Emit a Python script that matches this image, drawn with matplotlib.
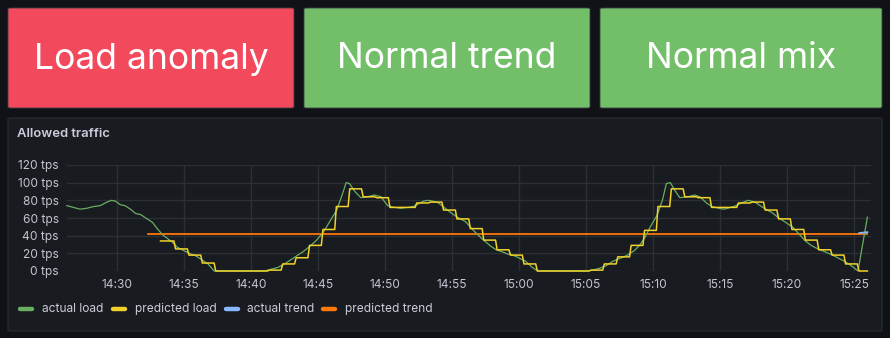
import numpy as np
import matplotlib
matplotlib.use("Agg")
import matplotlib.pyplot as plt
from matplotlib.patches import FancyBboxPatch
from matplotlib.lines import Line2D

plt.rcParams['font.family'] = ['Inter', 'DejaVu Sans']

# =========================================================
# DATA (time in minutes after 14:00)
# =========================================================
stat_labels = ["Load anomaly", "Normal trend", "Normal mix"]
stat_states = ["alert", "ok", "ok"]

actual_t = [26.25, 26.75, 27.25, 27.75, 28.25, 28.75, 29.25, 29.6, 29.9, 30.25,
            30.6, 31.0, 31.4, 31.75, 32.25, 32.65, 33.0, 33.4, 33.75, 34.1,
            34.5, 35.0, 35.4, 35.9, 36.3, 36.8, 37.25, 41.0, 41.5, 42.0,
            42.5, 42.9, 43.4, 43.9, 44.4, 44.9, 45.4, 46.0, 46.4, 46.8,
            47.1, 47.35, 47.75, 48.2, 48.7, 49.2, 49.7, 50.2, 50.7, 51.2,
            51.7, 52.1, 52.5, 52.85, 53.2, 53.6, 54.0, 54.5, 55.0, 55.5,
            56.0, 56.6, 57.2, 57.9, 58.3, 58.7, 59.2, 59.7, 60.1, 60.5,
            61.0, 61.4, 65.0, 65.5, 66.0, 66.5, 67.0, 67.5, 68.1, 68.6,
            69.0, 69.4, 69.8, 70.3, 70.7, 71.0, 71.3, 71.6, 72.0, 72.6,
            73.1, 73.5, 74.0, 74.4, 74.9, 75.3, 75.8, 76.2, 76.6, 77.1,
            77.6, 78.0, 78.4, 78.9, 79.3, 79.8, 80.4, 80.9, 81.3, 81.8,
            82.3, 82.8, 83.4, 83.9, 84.3, 84.8, 85.3, 86.0]
actual_v = [74, 72, 70, 71, 73, 74, 78, 80, 79, 75,
            74, 70, 65, 64, 59, 55, 48, 41, 37, 33,
            27, 23, 20, 17, 13, 8, 0, 0, 2, 4,
            8, 12, 17, 22, 28, 35, 44, 59, 69, 86,
            100, 99, 90, 83, 84, 86, 84, 74, 72, 71,
            72, 73, 76, 79, 80, 79, 77, 71, 65, 60,
            56, 46, 37, 28, 24, 22, 19, 17, 14, 11,
            4, 0, 0, 1, 3, 6, 11, 14, 18, 23,
            29, 38, 50, 63, 80, 99, 100, 92, 83, 84,
            86, 84, 77, 73, 71, 70, 72, 74, 77, 80,
            78, 74, 70, 66, 61, 56, 50, 42, 35, 29,
            25, 22, 18, 14, 11, 6, 0, 61]

# predicted load: one value per minute, starting 14:33:15
pred_start = 33.25
pred_v = [34, 25, 18, 9, 0, 0, 0, 0, 1, 8,
          15, 29, 47, 73, 93, 84, 83, 72, 72, 77,
          78, 69, 59, 48, 35, 24, 18, 8, 0, 0,
          0, 0, 1, 8, 16, 29, 46, 73, 93, 84,
          83, 72, 72, 77, 78, 69, 59, 47, 35, 24,
          18, 8, 0]
pred_end = 86.0

trend_t = [85.4, 86.0]
trend_v = [43, 44]

pred_trend_t = [32.3, 86.0]
pred_trend_v = [42, 42]

xtick_labels = ["14:30", "14:35", "14:40", "14:45", "14:50", "14:55",
                "15:00", "15:05", "15:10", "15:15", "15:20", "15:25"]
xtick_pos = [30, 35, 40, 45, 50, 55, 60, 65, 70, 75, 80, 85]
ytick_pos = [0, 20, 40, 60, 80, 100, 120]

series_names = ["actual load", "predicted load", "actual trend", "predicted trend"]

# =========================================================
# STYLE
# =========================================================
BG = '#111217'
PANEL = '#181b1f'
BORDER = '#2a2d33'
TEXT = '#ccccdc'
GRID = '#2c2f34'
colors = {'alert': '#F2495C', 'ok': '#73BF69'}
c_actual = '#6aae62'
c_pred = '#f2d22a'
c_trend = '#8AB8FF'
c_ptrend = '#FF780A'

W, H = 890, 338
fig = plt.figure(figsize=(W / 100, H / 100), dpi=100, facecolor=BG)


def fx(px):
    return px / W


def fy(py):
    return 1 - py / H


# -------- stat panels ----------
boxes = [(8, 294), (304, 590), (600, 882)]
for (x0, x1), label, state in zip(boxes, stat_labels, stat_states):
    fig.patches.append(FancyBboxPatch(
        (fx(x0), fy(108)), fx(x1 - x0), 100 / H,
        boxstyle="round,pad=0,rounding_size=0.003",
        transform=fig.transFigure, facecolor=colors[state],
        edgecolor='#3a3d44', linewidth=0.6, zorder=-2))
    fig.text(fx((x0 + x1) / 2), fy(59), label, color='white', fontsize=25.6,
             ha='center', va='center')

# -------- graph panel ----------
fig.patches.append(FancyBboxPatch(
    (fx(8), fy(331)), fx(874), 213 / H,
    boxstyle="round,pad=0,rounding_size=0.003",
    transform=fig.transFigure, facecolor=PANEL, edgecolor=BORDER,
    linewidth=0.8, zorder=-2))
fig.text(fx(17), fy(134), "Allowed traffic", color=TEXT, fontsize=9.4,
         fontweight='semibold', ha='left', va='center')

ax = fig.add_axes([fx(67), fy(271), fx(871 - 67), 106 / H])
ax.set_facecolor(PANEL)
ax.set_zorder(2)

ax.plot(actual_t, actual_v, color=c_actual, linewidth=0.9, clip_on=False, zorder=3)

# predicted load: each value held for a minute, short ramp between samples
ramp = 0.12
pred_x, pred_y = [], []
for i, v in enumerate(pred_v):
    t0 = pred_start + i
    t1 = min(t0 + 1, pred_end)
    pred_x += [t0 + (ramp if i > 0 else 0), t1]
    pred_y += [v, v]
ax.plot(pred_x, pred_y, color=c_pred, linewidth=1.1, clip_on=False, zorder=4)

ax.plot(trend_t, trend_v, color=c_trend, linewidth=1.3, zorder=5)
ax.plot(pred_trend_t, pred_trend_v, color=c_ptrend, linewidth=1.3, zorder=2)

ax.set_xlim(26.27, 86.27)
ax.set_ylim(0, 120)
ax.set_xticks(xtick_pos)
ax.set_xticklabels(xtick_labels)
ax.set_yticks(ytick_pos)
ax.set_yticklabels([f"{v} tps" for v in ytick_pos])
ax.tick_params(length=0, colors='#c4c4d2', labelsize=8.6)
ax.tick_params(axis='y', pad=6)
ax.tick_params(axis='x', pad=6)
ax.grid(True, color=GRID, linewidth=1.0)
ax.set_axisbelow(True)
for s in ax.spines.values():
    s.set_visible(False)

# -------- legend ----------
legend_items = [(20, 42, c_actual), (113, 135, c_pred),
                (226, 247, c_trend), (323, 345, c_ptrend)]
for (mx, tx, col), name in zip(legend_items, series_names):
    fig.add_artist(Line2D([fx(mx), fx(mx + 12)], [fy(309), fy(309)],
                          transform=fig.transFigure, color=col, linewidth=3.2,
                          solid_capstyle='round'))
    fig.text(fx(tx), fy(309), name, color=TEXT, fontsize=8.6,
             ha='left', va='center')

plt.savefig("out.png", dpi=100, facecolor=BG)
